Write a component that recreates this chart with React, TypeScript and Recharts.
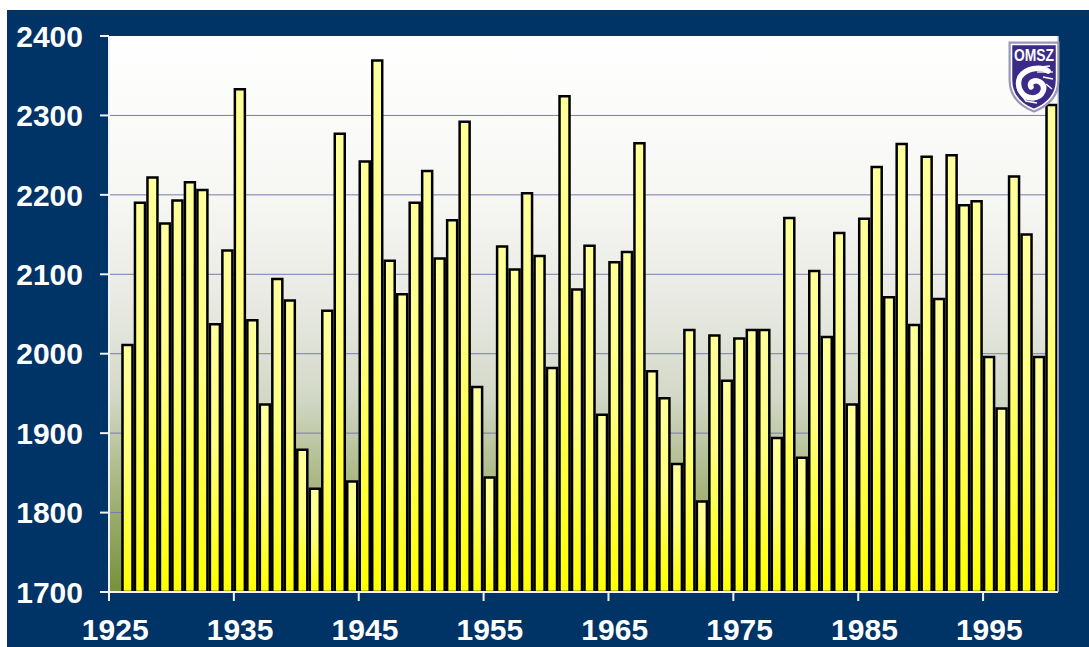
import React from "react";
import { BarChart, Bar, XAxis, YAxis, CartesianGrid } from "recharts";

const years: number[] = [
  1925, 1926, 1927, 1928, 1929, 1930, 1931, 1932, 1933, 1934,
  1935, 1936, 1937, 1938, 1939, 1940, 1941, 1942, 1943, 1944,
  1945, 1946, 1947, 1948, 1949, 1950, 1951, 1952, 1953, 1954,
  1955, 1956, 1957, 1958, 1959, 1960, 1961, 1962, 1963, 1964,
  1965, 1966, 1967, 1968, 1969, 1970, 1971, 1972, 1973, 1974,
  1975, 1976, 1977, 1978, 1979, 1980, 1981, 1982, 1983, 1984,
  1985, 1986, 1987, 1988, 1989, 1990, 1991, 1992, 1993, 1994,
  1995, 1996, 1997, 1998, 1999, 2000,
];

const values: (number | null)[] = [
  null, 2011, 2190, 2222, 2164, 2193, 2216, 2206, 2037, 2130,
  2333, 2042, 1936, 2094, 2067, 1879, 1830, 2054, 2277, 1839,
  2242, 2369, 2117, 2075, 2190, 2230, 2120, 2168, 2292, 1958,
  1844, 2135, 2106, 2202, 2123, 1982, 2324, 2081, 2136, 1923,
  2115, 2128, 2265, 1978, 1944, 1861, 2030, 1814, 2023, 1966,
  2019, 2030, 2030, 1894, 2171, 1869, 2104, 2021, 2152, 1936,
  2170, 2235, 2071, 2264, 2036, 2248, 2069, 2250, 2187, 2192,
  1996, 1931, 2223, 2150, 1996, 2313,
];

const yTicks: number[] = [1700, 1800, 1900, 2000, 2100, 2200, 2300, 2400];
const gridValues: number[] = [1800, 1900, 2000, 2100, 2200, 2300];

const data = years.map((y, i) => ({ year: y, value: values[i] }));

const W = 1089;
const H = 647;
const M_RIGHT = 30;
const Y_W = 109;
const PLOT_W = W - M_RIGHT - 1 - Y_W;
const BAND = PLOT_W / years.length;

const FONT = "'Liberation Sans', Arial, sans-serif";

const XTick = (props: any) => {
  const { x, y, payload } = props;
  return (
    <g>
      <line x1={x - BAND / 2} x2={x - BAND / 2} y1={y} y2={y + 9} stroke="#f2f2f2" strokeWidth={2} />
      <text
        x={x}
        y={y + 48}
        textAnchor="middle"
        fill="#ffffff"
        fontFamily={FONT}
        fontWeight="bold"
        fontSize={30}
      >
        {payload.value}
      </text>
    </g>
  );
};

const Logo = () => (
  <svg
    width={54}
    height={74}
    viewBox="0 0 54 74"
    style={{ position: "absolute", left: 1007, top: 40 }}
  >
    <path
      d="M3,3 H51 V40 C51,57 40,66 27,71 C14,66 3,57 3,40 Z"
      fill="#3b2b86"
      stroke="#9a98b8"
      strokeWidth={3}
    />
    <path
      d="M4.5,4.5 H49.5 V40 C49.5,56 39,64.5 27,69.5 C15,64.5 4.5,56 4.5,40 Z"
      fill="#3b2b86"
      stroke="#ffffff"
      strokeWidth={1.5}
    />
    <text
      x={27}
      y={21}
      textAnchor="middle"
      fill="#ffffff"
      fontFamily={FONT}
      fontWeight="bold"
      fontSize={16}
      textLength={40}
      lengthAdjust="spacingAndGlyphs"
    >
      OMSZ
    </text>
    <path
      d="M41,31 C33,26 19,28 13,37 C9,46 14,58 26,58 C36,57 40,47 33,42 C28,39 22,42 24,47"
      fill="none"
      stroke="#ffffff"
      strokeWidth={5.5}
      strokeLinecap="round"
    />
    <path d="M25,28 L43,26" stroke="#ffffff" strokeWidth={1.6} />
    <path d="M30,32 L46,32" stroke="#ffffff" strokeWidth={1.3} />
    <path d="M36,37 L46,39" stroke="#ffffff" strokeWidth={1.3} />
    <path d="M39,44 L45,49" stroke="#ffffff" strokeWidth={1.3} />
    <path d="M11,50 L19,61 L30,63" fill="none" stroke="#ffffff" strokeWidth={1.6} />
  </svg>
);

export default function App() {
  return (
    <div style={{ position: "absolute", left: 0, top: 0, width: W, height: H, background: "#ffffff", overflow: "hidden" }}>
      <div style={{ position: "absolute", left: 7, top: 10, right: 0, bottom: 0, background: "#003366" }} />
      <div style={{ position: "absolute", left: 0, top: 0 }}>
        <BarChart
          width={W}
          height={H}
          data={data}
          margin={{ top: 36, right: M_RIGHT, bottom: 0, left: 0 }}
          barCategoryGap="8%"
        >
          <defs>
            <linearGradient id="plotGrad" x1="0" y1="0" x2="0" y2="1">
              <stop offset="0" stopColor="#ffffff" />
              <stop offset="0.3" stopColor="#f6f6f3" />
              <stop offset="0.5" stopColor="#e6e8e0" />
              <stop offset="0.65" stopColor="#d2d8c6" />
              <stop offset="0.8" stopColor="#aab884" />
              <stop offset="1" stopColor="#77903a" />
            </linearGradient>
            <linearGradient id="barGrad" x1="0" y1="0" x2="0" y2="1">
              <stop offset="0" stopColor="#ffff9c" />
              <stop offset="0.45" stopColor="#ffff80" />
              <stop offset="1" stopColor="#ffff00" />
            </linearGradient>
          </defs>
          <CartesianGrid
            vertical={false}
            horizontalValues={gridValues}
            stroke="#7a7ab4"
            strokeWidth={1}
            fill="url(#plotGrad)"
            fillOpacity={1}
          />
          <XAxis
            dataKey="year"
            type="category"
            interval={9}
            height={55}
            tickLine={false}
            tickSize={0}
            tickMargin={0}
            axisLine={{ stroke: "#f2f2f2", strokeWidth: 2 }}
            tick={<XTick />}
          />
          <YAxis
            width={Y_W}
            domain={[1700, 2400]}
            ticks={yTicks}
            allowDataOverflow
            interval={0}
            tickSize={9}
            tickMargin={17}
            axisLine={{ stroke: "#f2f2f2", strokeWidth: 2 }}
            tickLine={{ stroke: "#f2f2f2", strokeWidth: 2 }}
            tick={{ fill: "#ffffff", fontSize: 30, fontWeight: "bold", fontFamily: FONT }}
          />
          <YAxis
            yAxisId="right"
            orientation="right"
            width={1}
            domain={[0, 1]}
            tick={false}
            tickLine={false}
            axisLine={{ stroke: "#c8c8c8", strokeWidth: 1.5 }}
          />
          <Bar
            dataKey="value"
            fill="url(#barGrad)"
            stroke="#000000"
            strokeWidth={2.5}
            isAnimationActive={false}
          />
        </BarChart>
      </div>
      <Logo />
    </div>
  );
}
